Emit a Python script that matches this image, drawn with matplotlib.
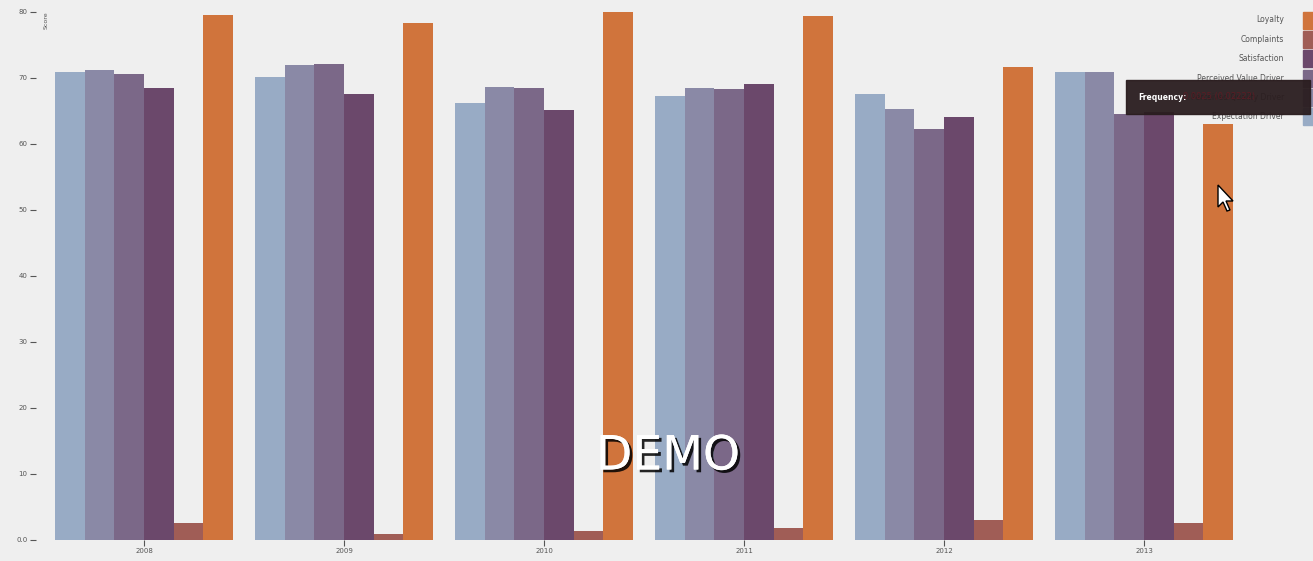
import numpy as np
import matplotlib
matplotlib.use('Agg')
import matplotlib.pyplot as plt
import matplotlib.patheffects as pe
from matplotlib.patches import Rectangle, Polygon

# data
years = ['2008', '2009', '2010', '2011', '2012', '2013']
series = ['Expectation Driver', 'Perceived Quality Driver', 'Perceived Value Driver',
          'Satisfaction', 'Complaints', 'Loyalty']
expectation = [70.9, 70.1, 66.1, 67.3, 67.5, 70.9]
quality = [71.2, 71.9, 68.6, 68.5, 65.2, 70.9]
value = [70.6, 72.1, 68.4, 68.3, 62.2, 64.5]
satisfaction = [68.5, 67.5, 65.1, 69.0, 64.1, 64.8]
complaints = [2.6, 0.9, 1.3, 1.8, 3.0, 2.6]
loyalty = [79.5, 78.3, 80.1, 79.4, 71.6, 63.0]
yticks = [0, 10, 20, 30, 40, 50, 60, 70, 80]
ytick_labels = ['0.0', '10', '20', '30', '40', '50', '60', '70', '80']

colors = ['#98abc5', '#8a89a6', '#7b6888', '#6b486b', '#a05d56', '#d0743c']
bg = '#efefef'
W, H = 1313, 561

def px(x, y):
    # pixel (from top-left) -> figure fraction
    return x / W, 1 - y / H

fig = plt.figure(figsize=(W / 100, H / 100), dpi=100, facecolor=bg)
left, right, top, bottom = 36, 1252, 11.7, 540
ax = fig.add_axes([left / W, 1 - bottom / H, (right - left) / W, (bottom - top) / H])
ax.set_facecolor(bg)

values = [expectation, quality, value, satisfaction, complaints, loyalty]
x = np.arange(len(years))
gw = 0.89
bw = gw / len(series)
for j, (vals, c) in enumerate(zip(values, colors)):
    ax.bar(x - gw / 2 + bw * (j + 0.5), vals, bw, color=c, linewidth=0)

ax.set_xlim(-0.54, 5.54)
ax.set_ylim(0, 80)
ax.set_xticks(x)
ax.set_xticklabels(years)
ax.set_yticks(yticks)
ax.set_yticklabels(ytick_labels)
for s in ax.spines.values():
    s.set_visible(False)
ax.tick_params(axis='both', labelsize=5, colors='#555555', length=4, width=0.8, pad=2)
ax.text(0.006, 1.0, 'Score', rotation=90, transform=ax.transAxes, ha='left', va='top',
        fontsize=4.5, color='#555555')

# legend (reversed order, right aligned)
for k, (name, c) in enumerate(zip(series[::-1], colors[::-1])):
    yc = 20 + 19.4 * k
    fig.text(*px(1284, yc), name, ha='right', va='center', fontsize=5.5, color='#555555')
    x0, y0 = px(1303, yc + 8.5)
    fig.patches.append(Rectangle((x0, y0), 18 / W, 17 / H, transform=fig.transFigure,
                                 color=c, zorder=2))

# hover tooltip
tx, ty = px(1126, 114)
fig.patches.append(Rectangle((tx, ty), 184 / W, 34 / H, transform=fig.transFigure,
                             color='#2a1d1f', alpha=0.95, zorder=5))
fig.text(*px(1138, 97), 'Frequency:', ha='left', va='center', fontsize=5.5,
         color='white', fontweight='bold', zorder=6)
fig.text(*px(1183, 97), '0.0025 (0.02222)', ha='left', va='center', fontsize=6,
         color='#5a1c24', zorder=6)

# mouse cursor
cur = [(1218, 185), (1218, 207), (1223, 202), (1227, 211), (1230, 210), (1226, 201), (1233, 201)]
fig.patches.append(Polygon([px(a, b) for a, b in cur], closed=True, transform=fig.transFigure,
                           facecolor='white', edgecolor='black', linewidth=1, zorder=7))

# watermark
fig.text(*px(668, 457), 'DEMO', ha='center', va='center', fontsize=34, color='white',
         family='DejaVu Sans',
         path_effects=[pe.withSimplePatchShadow(offset=(2, -2), shadow_rgbFace='black', alpha=0.85),
                       pe.Normal()], zorder=8)

fig.savefig('out.png', dpi=100, facecolor=bg)
